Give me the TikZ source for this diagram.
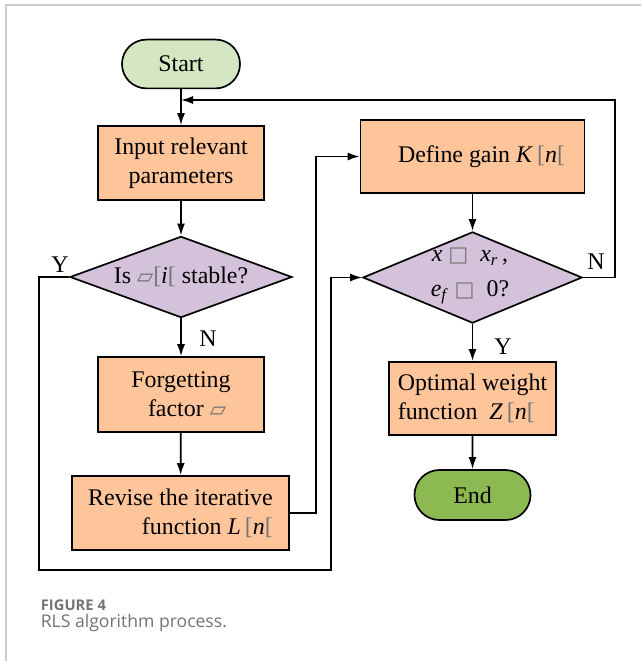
\documentclass[tikz,border=0pt]{standalone}
\usepackage{fontspec}
\setmainfont{Liberation Serif}
\newfontfamily\capfont{Open Sans}
\newfontfamily\symfont{DejaVu Sans}
\usetikzlibrary{positioning,arrows.meta,shapes.geometric,shapes.misc}

% stand-ins for the glyphs that the figure prints as empty boxes
\newcommand{\gapsl}{{\symfont\color{black!55}\fontsize{15}{15}\selectfont ▱}}
\newcommand{\gapsq}{{\symfont\color{black!55}\fontsize{15}{15}\selectfont □}}
\newcommand{\gbr}{{\color{black!55}[}}

\definecolor{startgreen}{RGB}{213,230,195}
\definecolor{endgreen}{RGB}{141,185,82}
\definecolor{boxpeach}{RGB}{255,197,154}
\definecolor{decilac}{RGB}{212,193,218}

\begin{document}
\begin{tikzpicture}[x=0.025cm, y=-0.025cm,
    font=\fontsize{17}{20.5}\selectfont,
    every path/.style={line width=1.2pt},
    term/.style={draw, rounded rectangle, minimum width=2.95cm, minimum height=1.22cm, inner sep=0pt},
    procbox/.style={draw, fill=boxpeach, rectangle, inner sep=0pt},
    decision/.style={draw, fill=decilac, diamond, inner sep=0pt},
    arr/.style={-{Latex[length=3mm,width=2mm]}},
    yn/.style={font=\fontsize{17}{20.5}\selectfont}]

    % frame of the page
    \useasboundingbox (0,0) rectangle (641,661);
    \draw[black!20, line width=0.8pt] (6,661) -- (6,5) -- (641,5);

    % left column
    \node[term, fill=startgreen] (start) at (181,64) {Start};
    \node[procbox, minimum width=4.15cm, minimum height=1.85cm, align=center] (input) at (181,163) {Input relevant\\parameters};
    \node[decision, minimum width=5.55cm, minimum height=2.03cm] (stable) at (181,277) {};
    \node at (stable) {Is \gapsl\gbr\textit{i}\gbr\ stable?};
    \node[procbox, minimum width=4.15cm, minimum height=1.87cm, align=center] (forget) at (181,394.5) {Forgetting\\\hspace*{0.3cm}factor \gapsl};
    \node[procbox, minimum width=5.43cm, minimum height=1.85cm, align=right] (revise) at (180.5,513) {Revise the iterative\\function \textit{L}\,\gbr\textit{n}\gbr};

    % right column
    \node[procbox, minimum width=5.6cm, minimum height=1.83cm] (gain) at (472.5,156.5) {\hspace*{0.45cm}Define gain \textit{K}\,\gbr\textit{n}\gbr};
    \node[decision, minimum width=5.48cm, minimum height=2.28cm] (conv) at (472.5,277.5) {};
    \node[align=center] at (470,276) {\textit{x} \gapsq\ \ \textit{x}\textsubscript{\textit{r}}\,,\\[4pt]\textit{e}\textsubscript{\textit{f}} \gapsq\ \ 0?};
    \node[procbox, minimum width=4.18cm, minimum height=1.83cm, align=left] (weight) at (472.5,398.5) {Optimal weight\\function\ \ \textit{Z}\,\gbr\textit{n}\gbr};
    \node[term, fill=endgreen, minimum width=2.9cm, minimum height=1.25cm] (end) at (472.5,495) {End};

    % labels of the branches
    \node[yn] (ylbl1) at (60,265) {Y};
    \node[yn] (nlbl1) at (208,339) {N};
    \node[yn] (nlbl2) at (596,262) {N};
    \node[yn] (ylbl2) at (503,347) {Y};

    % connectors
    \coordinate (loopin) at (181,100);
    \draw[arr] (start) -- (input);
    \draw[arr] (input) -- (stable);
    \draw[arr] (stable) -- (forget);
    \draw[arr] (forget) -- (revise);
    \draw[arr] (revise.east) -- ++(26,0) |- (gain.west);
    \draw[arr] (stable.west) -- ++(-30,0) |- (331,570) |- (conv.west);
    \draw[arr] (gain) -- (conv);
    \draw[arr] (conv.east) -- ++(32,0) |- (loopin);
    \draw[arr] (conv) -- (weight);
    \draw[arr] (weight) -- (end);

    % caption
    \node[anchor=base west, inner sep=0pt, text=black!55, font=\capfont\bfseries\fontsize{10.5}{12}\selectfont] (figno) at (40,610) {FIGURE 4};
    \node[anchor=base west, inner sep=0pt, text=black!55, font=\capfont\fontsize{12.5}{15}\selectfont] (figcap) at (40,627) {RLS algorithm process.};
\end{tikzpicture}
\end{document}
